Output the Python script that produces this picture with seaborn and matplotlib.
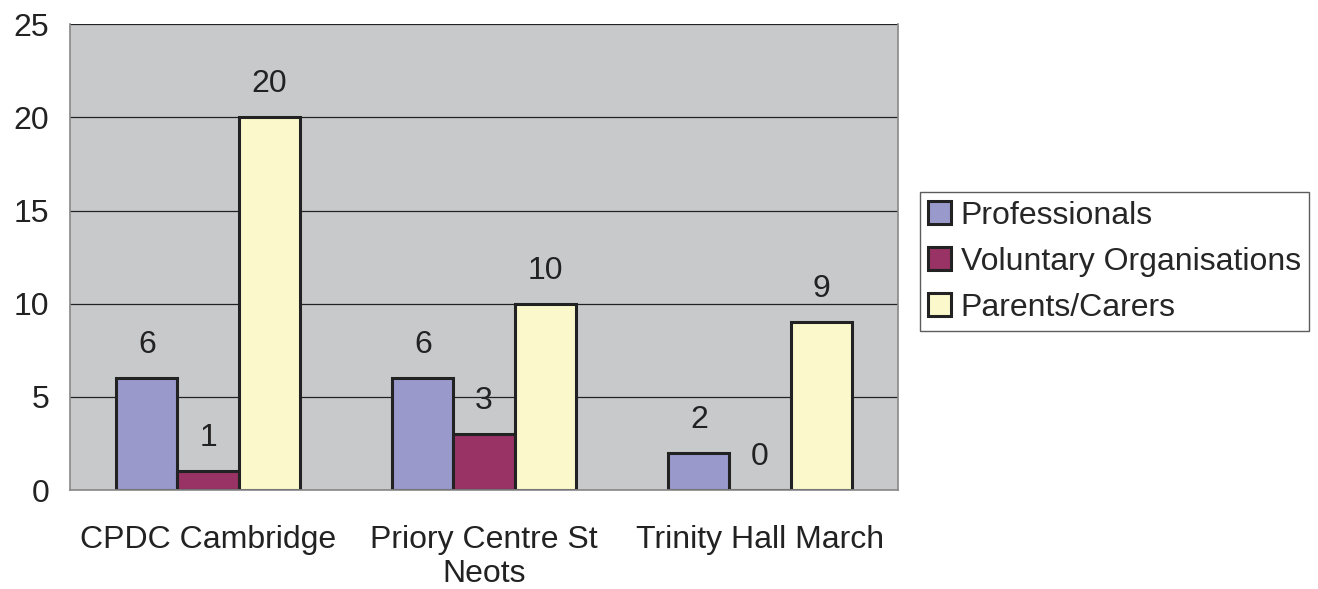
import matplotlib.pyplot as plt
import numpy as np
import pandas as pd
import seaborn as sns

# data
sites = ['CPDC Cambridge', 'Priory Centre St\nNeots', 'Trinity Hall March']
groups = ['Professionals', 'Voluntary Organisations', 'Parents/Carers']
professionals = [6, 6, 2]
voluntary = [1, 3, 0]
parents = [20, 10, 9]
colors = ['#9999CC', '#993366', '#FBF8CC']

df = pd.DataFrame({
    'site': sites * 3,
    'group': [g for g in groups for _ in sites],
    'count': professionals + voluntary + parents,
})

sns.set_style('white')
plt.rcParams['font.family'] = ['Liberation Sans', 'DejaVu Sans']

fig = plt.figure(figsize=(13.18, 5.89), dpi=100)
ax = fig.add_axes([0.0531, 0.168, 0.6283, 0.791])
ax.set_facecolor('#C8C9CB')
ax.set_axisbelow(True)

sns.barplot(data=df, x='site', y='count', hue='group', order=sites, hue_order=groups,
            palette=colors, width=0.665, edgecolor='#222222', linewidth=2.2,
            saturation=1, ax=ax)

for c in ax.containers:
    ax.bar_label(c, fmt='%d', padding=13, fontsize=23, color='#222222')

ax.set_ylim(0, 25)
ax.set_xlim(-0.5, 2.5)
ax.set_yticks([0, 5, 10, 15, 20, 25])
ax.yaxis.grid(True, color='#222222', linewidth=0.9)
ax.tick_params(axis='y', length=9, width=1, color='#777777', labelsize=23, pad=6, labelcolor='#222222')
ax.tick_params(axis='x', which='major', length=0, labelsize=23, pad=25, labelcolor='#222222')
for t in ax.get_xticklabels():
    t.set_linespacing(1.2)
ax.set_xticks([-0.5, 0.5, 1.5, 2.5], minor=True)
ax.tick_params(axis='x', which='minor', length=8, width=1, color='#777777')
ax.set_xlabel('')
ax.set_ylabel('')
for s in ['left', 'bottom', 'right', 'top']:
    ax.spines[s].set_color('#888888')
    ax.spines[s].set_linewidth(1.2)
ax.spines['top'].set_visible(False)

leg = ax.legend(loc='center left', bbox_to_anchor=(1.026, 0.49), fontsize=23, frameon=True,
                fancybox=False, edgecolor='#333333', handlelength=0.72, handleheight=0.72,
                handletextpad=0.3, labelspacing=0.5, borderpad=0.26, borderaxespad=0)
leg.get_frame().set_linewidth(1)

fig.savefig('out.png', dpi=100)
plt.close()
